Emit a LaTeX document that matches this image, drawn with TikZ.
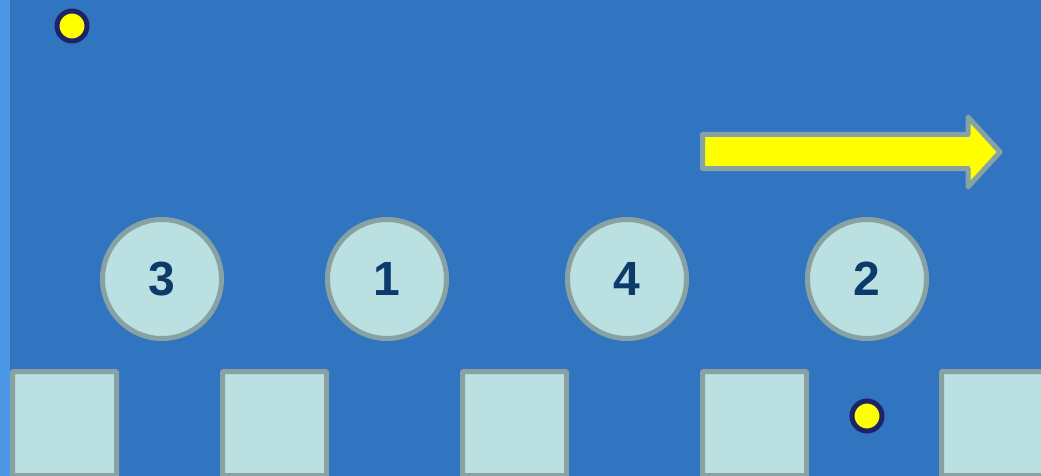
\documentclass[tikz,border=0pt]{standalone}
\usepackage{fontspec}
\setmainfont{Liberation Sans}
\definecolor{bgblue}{HTML}{3174C0}
\definecolor{stripblue}{HTML}{4C98E6}
\definecolor{paleteal}{HTML}{BAE0E2}
\definecolor{edgegray}{HTML}{88A2A4}
\definecolor{numnavy}{HTML}{0B3A6B}
\definecolor{dotnavy}{HTML}{1E2368}
\definecolor{dotyellow}{HTML}{FFFF00}
\tikzset{
  numcircle/.style={circle, draw=edgegray, fill=paleteal, line width=5pt,
    minimum size=119pt, inner sep=0pt, text=numnavy,
    font=\fontsize{48}{48}\selectfont\bfseries},
  slotbox/.style={rectangle, draw=edgegray, fill=paleteal, line width=5pt,
    minimum size=104pt, inner sep=0pt, rounded corners=1pt},
  ydot/.style={circle, draw=dotnavy, fill=dotyellow, line width=5pt,
    minimum size=30pt, inner sep=0pt},
  bigarrow/.style={draw=edgegray, fill=dotyellow, line width=5pt, line join=round}
}
\begin{document}
\begin{tikzpicture}[x=1pt,y=-1pt]
\useasboundingbox (0,0) rectangle (1041,476);
\clip (0,0) rectangle (1041,476);
\fill[bgblue] (0,0) rectangle (1041,476);
\fill[stripblue] (0,0) rectangle (10,476);

% dots
\node[ydot] (d1) at (72,26) {};
\node[ydot] (d2) at (867,416) {};

% arrow
\coordinate (a1) at (702.5,134.5);
\coordinate (a2) at (968,134.5);
\coordinate (a3) at (968,117);
\coordinate (tip) at (1000,152);
\coordinate (a5) at (968,187);
\coordinate (a6) at (968,168.5);
\coordinate (a7) at (702.5,168.5);
\draw[bigarrow] (a1) -- (a2) -- (a3) -- (tip) -- (a5) -- (a6) -- (a7) -- cycle;

% numbered circles
\node[numcircle] (c3) at (162,279) {3};
\node[numcircle] (c1) at (387,279) {1};
\node[numcircle] (c4) at (627,279) {4};
\node[numcircle] (c2) at (867,279) {2};

% squares
\node[slotbox] (s1) at (64.5,423.5) {};
\node[slotbox] (s2) at (274.5,423.5) {};
\node[slotbox] (s3) at (514.5,423.5) {};
\node[slotbox] (s4) at (754.5,423.5) {};
\node[slotbox] (s5) at (993.5,423.5) {};
\end{tikzpicture}
\end{document}
